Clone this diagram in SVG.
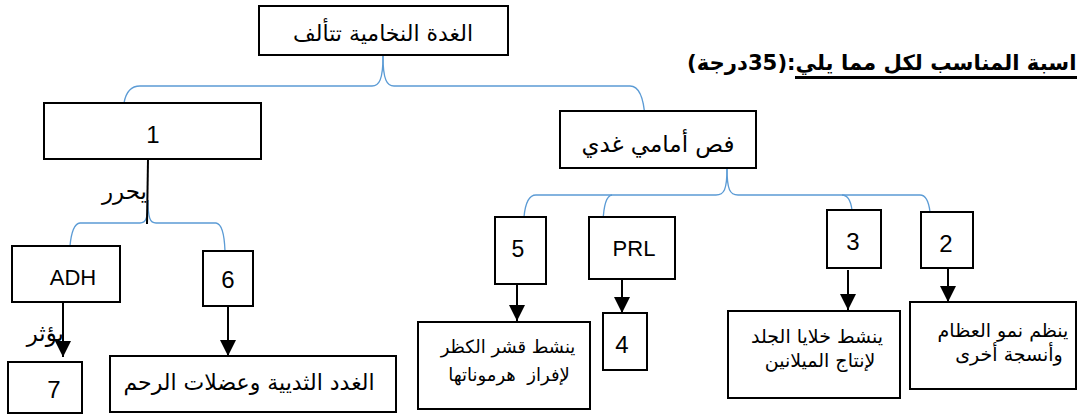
<svg xmlns="http://www.w3.org/2000/svg" width="1077" height="415" viewBox="0 0 1077 415">
<defs>
<style>
.box{fill:#fff;stroke:#000;stroke-width:2}
.ar{font-family:"DejaVu Sans","Liberation Sans",sans-serif;fill:#000;direction:rtl}
.lt{font-family:"Liberation Sans","DejaVu Sans",sans-serif;fill:#000;text-anchor:middle}
.br{fill:none;stroke:#5B9BD5;stroke-width:1.3}
.ar2{fill:none;stroke:#000;stroke-width:2}
</style>
<marker id="ah" markerUnits="userSpaceOnUse" markerWidth="16" markerHeight="16" refX="16" refY="8" orient="auto">
<path d="M0,0 L16,8 L0,16 z" fill="#000"/>
</marker>
</defs>
<rect width="1077" height="415" fill="#fff"/>

<g id="heading">
<text class="ar" x="687" y="70" font-size="21.2" font-weight="bold" text-anchor="end">اسبة المناسب لكل مما يلي:(35درجة)</text>
<rect x="795" y="76" width="282" height="3" fill="#000"/>
</g>

<g id="connectors">
<path class="br" d="M383,56 C383,80 379,86 372,86 L140,86 Q127,86 124,103"/>
<path class="br" d="M383,56 C383,80 387,86 394,86 L630,86 Q643,86 645,118"/>
<path class="br" d="M148,200 C148,218 146,223 140,223 L80,223 Q72,224 70,246"/>
<path class="br" d="M148,200 C148,218 150,223 156,223 L216,223 Q224,224 225,251"/>
<line x1="148" y1="159" x2="147" y2="224" stroke="#000" stroke-width="2"/>
<path class="br" d="M727,168 C727,190 724,195 716,195 L536,195 Q526,195 524,217"/>
<path class="br" d="M612,195 Q604,196 603,222"/>
<path class="br" d="M727,168 C727,190 730,195 738,195 L842,195 Q850,195 852,210"/>
<path class="br" d="M842,195 L920,195 Q928,195 930,212"/>
<line class="ar2" x1="63" y1="302" x2="63" y2="357" marker-end="url(#ah)"/>
<line class="ar2" x1="228" y1="306" x2="228" y2="356" marker-end="url(#ah)"/>
<line class="ar2" x1="517" y1="284" x2="517" y2="321" marker-end="url(#ah)"/>
<line class="ar2" x1="622" y1="275" x2="622" y2="313" marker-end="url(#ah)"/>
<line class="ar2" x1="848" y1="270" x2="848" y2="310" marker-end="url(#ah)"/>
<line class="ar2" x1="948" y1="264" x2="948" y2="302" marker-end="url(#ah)"/>
<text class="ar" x="147" y="199" font-size="23" text-anchor="start">يحرر</text>
<text class="ar" x="64" y="341" font-size="23" text-anchor="start">يؤثر</text>
</g>

<g id="root">
<rect class="box" x="259" y="6" width="249" height="49"/>
<text class="ar" x="383" y="41" font-size="22" text-anchor="middle">الغدة النخامية تتألف</text>
</g>

<g id="n1">
<rect class="box" x="44" y="103" width="217" height="56"/>
<text class="lt" x="153" y="143" font-size="24">1</text>
</g>

<g id="anterior">
<rect class="box" x="560" y="111" width="196" height="57"/>
<text class="ar" x="658" y="152" font-size="23" text-anchor="middle">فص أمامي غدي</text>
</g>

<g id="adh">
<rect class="box" x="12" y="246" width="108" height="56"/>
<text class="lt" x="73" y="285" font-size="22">ADH</text>
</g>

<g id="n6">
<rect class="box" x="203" y="251" width="50" height="55"/>
<text class="lt" x="228" y="288" font-size="24">6</text>
</g>

<g id="n7">
<rect class="box" x="8" y="362" width="74" height="51"/>
<text class="lt" x="54" y="398" font-size="24">7</text>
</g>

<g id="mammary">
<rect class="box" x="110" y="356" width="286" height="56"/>
<text class="ar" x="249" y="390" font-size="22" text-anchor="middle">الغدد الثديية وعضلات الرحم</text>
</g>

<g id="n5">
<rect class="box" x="495" y="217" width="51" height="67"/>
<text class="lt" x="518" y="257" font-size="23">5</text>
</g>

<g id="prl">
<rect class="box" x="589" y="217" width="86" height="62"/>
<text class="lt" x="634" y="256" font-size="22">PRL</text>
</g>

<g id="n3">
<rect class="box" x="827" y="210" width="54" height="58"/>
<text class="lt" x="853" y="250" font-size="24">3</text>
</g>

<g id="n2">
<rect class="box" x="921" y="212" width="52" height="56"/>
<text class="lt" x="946" y="252" font-size="24">2</text>
</g>

<g id="n4">
<rect class="box" x="603" y="313" width="44" height="57"/>
<text class="lt" x="622" y="353" font-size="24">4</text>
</g>

<g id="adrenal">
<rect class="box" x="418" y="322" width="172" height="87"/>
<text class="ar" x="508" y="353" font-size="18" text-anchor="middle">ينشط قشر الكظر</text>
<text class="ar" x="509" y="381" font-size="18" text-anchor="middle" xml:space="preserve">لإفراز  هرموناتها</text>
</g>

<g id="skin">
<rect class="box" x="728" y="311" width="172" height="87"/>
<text class="ar" x="817" y="343" font-size="19" text-anchor="middle">ينشط خلايا الجلد</text>
<text class="ar" x="820" y="367" font-size="19" text-anchor="middle">لإنتاج الميلانين</text>
</g>

<g id="bones">
<rect class="box" x="910" y="302" width="166" height="87"/>
<text class="ar" x="1003" y="337" font-size="19" text-anchor="middle">ينظم نمو العظام</text>
<text class="ar" x="1009" y="361" font-size="19" text-anchor="middle">وأنسجة أخرى</text>
</g>
</svg>
